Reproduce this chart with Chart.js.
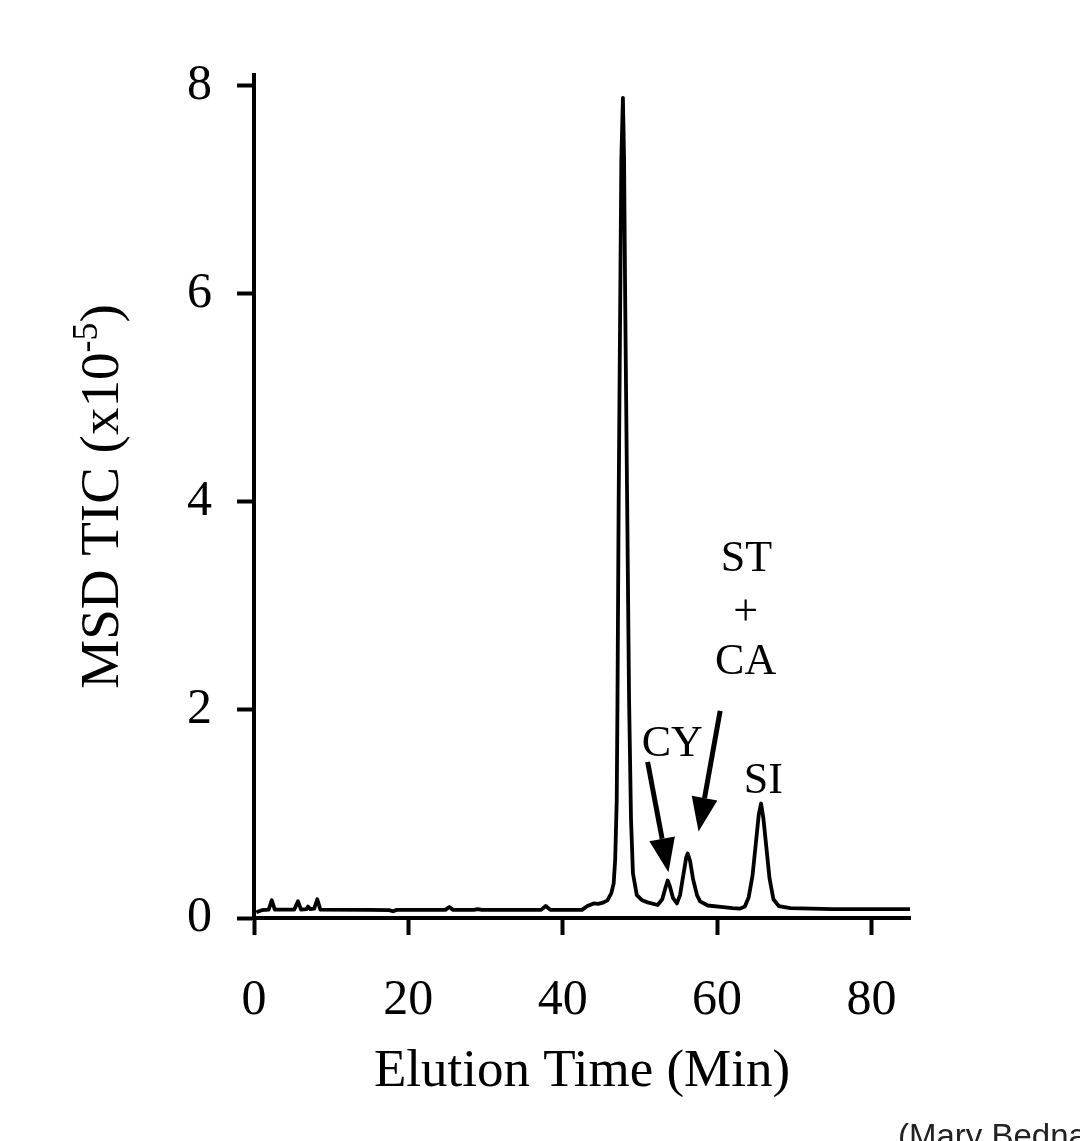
<!DOCTYPE html>
<html>
<head>
<meta charset="utf-8">
<script src="https://cdn.jsdelivr.net/npm/chart.js@4/dist/chart.umd.min.js"></script>
<style>
  html, body { margin: 0; padding: 0; background: #fff; }
</style>
</head>
<body>
<canvas id="ticChart" width="1080" height="1141"></canvas>
<script>
// elution time (min) and MSD TIC signal (x10^-5)
var elutionTime = [
  0.3, 1.0, 1.9, 2.3, 2.7, 5.2, 5.7, 6.1, 6.8, 7.0, 7.3, 7.8, 8.2, 8.6,
  15, 17.5, 18, 18.5, 24.8, 25.3, 25.8, 28.5, 29, 29.5, 37.2, 37.8, 38.4,
  42.5, 43.2, 44.0, 44.6, 45.3, 45.8, 46.3, 46.6, 46.8, 47.0, 47.1, 47.25,
  47.45, 47.6, 47.8, 47.95, 48.1, 48.35, 48.6, 48.85, 49.1, 49.6, 50.3, 51.0,
  52.3, 52.9, 53.35, 53.6, 53.9, 54.3, 54.8, 55.2, 55.6, 56.0, 56.2, 56.5,
  56.9, 57.4, 57.8, 58.8, 60.8, 62.0, 63.0, 63.6, 64.1, 64.6, 65.0, 65.4,
  65.7, 66.0, 66.4, 66.8, 67.3, 68.0, 69.5, 75, 85
];
var ticSignal = [
  0.055, 0.075, 0.08, 0.17, 0.08, 0.08, 0.16, 0.08, 0.085, 0.11, 0.085, 0.09, 0.18, 0.08,
  0.078, 0.075, 0.065, 0.078, 0.078, 0.105, 0.078, 0.078, 0.085, 0.078, 0.078, 0.115, 0.078,
  0.078, 0.115, 0.14, 0.135, 0.15, 0.17, 0.24, 0.33, 0.56, 1.13, 2.1, 4.0,
  5.9, 7.3, 7.88, 7.3, 5.9, 4.0, 2.1, 0.95, 0.43, 0.22, 0.17, 0.15,
  0.125, 0.18, 0.3, 0.36, 0.3, 0.19, 0.14, 0.22, 0.4, 0.58, 0.62, 0.55,
  0.37, 0.22, 0.16, 0.12, 0.105, 0.095, 0.09, 0.11, 0.2, 0.41, 0.70, 0.99,
  1.1, 0.96, 0.67, 0.38, 0.18, 0.115, 0.095, 0.085, 0.085
];

var xTicks = [0, 20, 40, 60, 80];
var yTicks = [0, 2, 4, 6, 8];

// peak labels: text, x, y (data units)
var peakText = ["ST", "+", "CA", "CY", "SI"];
var peakX = [63.8, 63.7, 63.7, 54.2, 66.0];
var peakY = [3.45, 2.93, 2.46, 1.67, 1.31];

// arrows: from (x0,y0) to tip (x1,y1), data units
var arrowX0 = [51.0, 60.4];
var arrowY0 = [1.50, 1.99];
var arrowX1 = [53.7, 57.6];
var arrowY1 = [0.44, 0.83];

var points = elutionTime.map(function (t, i) { return { x: t, y: ticSignal[i] }; });

var serif = "'Liberation Serif', 'Times New Roman', serif";

// titles, labels, arrows
var extras = {
  id: 'extras',
  afterDraw: function (chart) {
    var c = chart.ctx;
    var xs = chart.scales.x, ys = chart.scales.y;
    var area = chart.chartArea;
    c.save();
    c.fillStyle = '#000';
    c.strokeStyle = '#000';

    // x title
    c.font = '53px ' + serif;
    c.textAlign = 'center';
    c.textBaseline = 'alphabetic';
    c.fillText('Elution Time (Min)', (area.left + area.right) / 2, 1086);

    // y title with superscript
    c.save();
    c.translate(118, (area.top + area.bottom) / 2);
    c.rotate(-Math.PI / 2);
    var big = '55px ' + serif, small = '36px ' + serif;
    c.font = big;
    var w1 = c.measureText('MSD TIC (x10').width;
    var w3 = c.measureText(')').width;
    c.font = small;
    var w2 = c.measureText('-5').width;
    var start = -(w1 + w2 + w3) / 2;
    c.textAlign = 'left';
    c.font = big;
    c.fillText('MSD TIC (x10', start, 0);
    c.font = small;
    c.fillText('-5', start + w1, -21);
    c.font = big;
    c.fillText(')', start + w1 + w2, 0);
    c.restore();

    // peak labels
    c.font = '44px ' + serif;
    c.textAlign = 'center';
    c.textBaseline = 'middle';
    peakText.forEach(function (s, i) {
      c.fillText(s, xs.getPixelForValue(peakX[i]), ys.getPixelForValue(peakY[i]));
    });

    // arrows
    c.lineWidth = 5;
    c.lineCap = 'butt';
    arrowX0.forEach(function (ax, i) {
      var x0 = xs.getPixelForValue(ax), y0 = ys.getPixelForValue(arrowY0[i]);
      var x1 = xs.getPixelForValue(arrowX1[i]), y1 = ys.getPixelForValue(arrowY1[i]);
      var ang = Math.atan2(y1 - y0, x1 - x0);
      var headLen = 34, headW = 13;
      var bx = x1 - headLen * Math.cos(ang), by = y1 - headLen * Math.sin(ang);
      c.beginPath();
      c.moveTo(x0, y0);
      c.lineTo(bx, by);
      c.stroke();
      c.beginPath();
      c.moveTo(x1, y1);
      c.lineTo(bx + headW * Math.sin(ang), by - headW * Math.cos(ang));
      c.lineTo(bx - headW * Math.sin(ang), by + headW * Math.cos(ang));
      c.closePath();
      c.fill();
    });

    // credit
    c.fillStyle = '#222';
    c.font = "33px 'Liberation Sans', Arial, sans-serif";
    c.textAlign = 'left';
    c.textBaseline = 'alphabetic';
    c.fillText('(Mary Bednarek)', 898, 1147);
    c.restore();
  }
};

var ctx = document.getElementById('ticChart');
var ticChart = new Chart(ctx, {
  type: 'line',
  data: {
    datasets: [{
      data: points,
      borderColor: '#000',
      borderWidth: 3.8,
      pointRadius: 0,
      borderJoinStyle: 'round',
      tension: 0,
      fill: false
    }]
  },
  options: {
    responsive: false,
    animation: false,
    events: [],
    layout: { padding: { top: 75, right: 170, left: 0, bottom: 0 } },
    plugins: { legend: { display: false }, tooltip: { enabled: false } },
    scales: {
      x: {
        type: 'linear',
        min: 0,
        max: 85,
        afterBuildTicks: function (s) { s.ticks = xTicks.map(function (v) { return { value: v }; }); },
        afterFit: function (s) { s.height = 1141 - 918; },
        border: { display: true, color: '#000', width: 4 },
        grid: { drawOnChartArea: false, drawTicks: true, tickLength: 17, tickColor: '#000', tickWidth: 4 },
        ticks: { color: '#000', padding: 36, maxRotation: 0, font: { family: serif, size: 50 } }
      },
      y: {
        type: 'linear',
        min: 0,
        max: 8.1,
        afterBuildTicks: function (s) { s.ticks = yTicks.map(function (v) { return { value: v }; }); },
        afterFit: function (s) { s.width = 254; },
        border: { display: true, color: '#000', width: 4 },
        grid: { drawOnChartArea: false, drawTicks: true, tickLength: 17, tickColor: '#000', tickWidth: 4 },
        ticks: { color: '#000', padding: 25, font: { family: serif, size: 50 } }
      }
    }
  },
  plugins: [extras]
});
</script>
</body>
</html>
